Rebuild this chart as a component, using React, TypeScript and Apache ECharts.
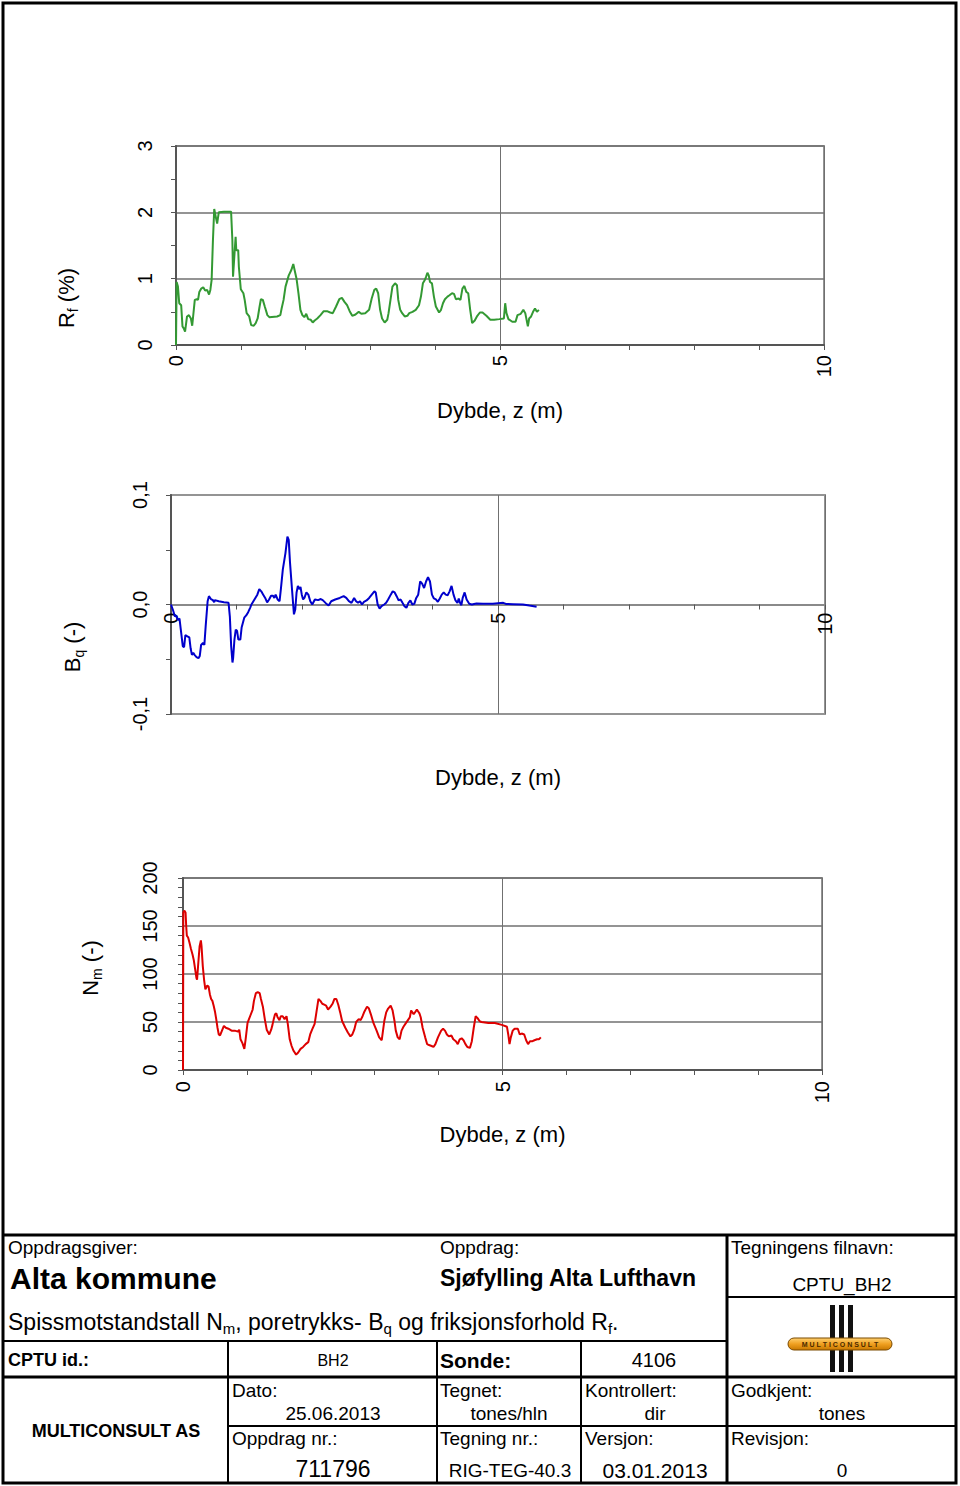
import React, { useEffect, useRef } from "react";
import * as echarts from "echarts";

// ---------- data ----------
const rfDepth = [0, 0.01, 0.03, 0.05, 0.08, 0.1, 0.12, 0.14, 0.17, 0.2, 0.23, 0.25, 0.29, 0.32, 0.34, 0.36, 0.39, 0.42, 0.45, 0.48, 0.51, 0.53, 0.55, 0.57, 0.59, 0.61, 0.635, 0.66, 0.74, 0.85, 0.87, 0.88, 0.9, 0.92, 0.93, 0.96, 0.97, 1.0, 1.04, 1.06, 1.09, 1.13, 1.16, 1.2, 1.23, 1.26, 1.29, 1.31, 1.34, 1.37, 1.41, 1.44, 1.56, 1.61, 1.63, 1.66, 1.69, 1.74, 1.78, 1.81, 1.83, 1.86, 1.89, 1.92, 1.95, 1.98, 2.01, 2.04, 2.08, 2.11, 2.14, 2.18, 2.23, 2.28, 2.33, 2.38, 2.42, 2.47, 2.52, 2.56, 2.6, 2.64, 2.68, 2.72, 2.77, 2.82, 2.86, 2.92, 2.98, 3.02, 3.06, 3.09, 3.12, 3.15, 3.18, 3.22, 3.26, 3.28, 3.31, 3.34, 3.38, 3.41, 3.43, 3.46, 3.49, 3.53, 3.57, 3.6, 3.65, 3.7, 3.75, 3.78, 3.81, 3.84, 3.86, 3.88, 3.9, 3.92, 3.95, 3.98, 4.01, 4.06, 4.09, 4.12, 4.15, 4.19, 4.22, 4.26, 4.29, 4.32, 4.36, 4.39, 4.42, 4.45, 4.48, 4.51, 4.54, 4.57, 4.61, 4.65, 4.69, 4.73, 4.79, 4.85, 4.91, 4.99, 5.06, 5.08, 5.1, 5.13, 5.19, 5.24, 5.27, 5.32, 5.36, 5.39, 5.43, 5.45, 5.48, 5.51, 5.54, 5.57, 5.6];
const rfValue = [0, 0.95, 0.88, 0.63, 0.6, 0.28, 0.25, 0.2, 0.43, 0.45, 0.4, 0.29, 0.68, 0.69, 0.68, 0.8, 0.85, 0.87, 0.82, 0.83, 0.76, 0.83, 0.98, 1.58, 2.05, 1.95, 1.83, 2.0, 2.01, 2.01, 1.58, 1.03, 1.33, 1.63, 1.43, 1.43, 1.18, 0.84, 0.78, 0.68, 0.48, 0.43, 0.3, 0.29, 0.33, 0.4, 0.58, 0.69, 0.68, 0.58, 0.45, 0.42, 0.43, 0.45, 0.55, 0.68, 0.88, 1.05, 1.13, 1.22, 1.13, 1.0, 0.78, 0.53, 0.45, 0.42, 0.47, 0.39, 0.38, 0.34, 0.37, 0.4, 0.45, 0.51, 0.51, 0.49, 0.48, 0.58, 0.69, 0.71, 0.65, 0.6, 0.51, 0.44, 0.46, 0.5, 0.47, 0.48, 0.53, 0.7, 0.83, 0.85, 0.78, 0.53, 0.4, 0.34, 0.38, 0.48, 0.68, 0.88, 0.93, 0.9, 0.68, 0.53, 0.48, 0.43, 0.44, 0.48, 0.5, 0.53, 0.6, 0.73, 0.93, 0.98, 1.03, 1.09, 1.05, 0.95, 0.93, 0.73, 0.58, 0.49, 0.53, 0.63, 0.69, 0.73, 0.75, 0.78, 0.77, 0.69, 0.7, 0.68, 0.85, 0.89, 0.8, 0.78, 0.53, 0.33, 0.37, 0.44, 0.49, 0.49, 0.44, 0.38, 0.38, 0.39, 0.4, 0.63, 0.48, 0.39, 0.35, 0.35, 0.45, 0.47, 0.53, 0.48, 0.28, 0.4, 0.43, 0.5, 0.55, 0.5, 0.53];

const bqDepth = [0, 0.03, 0.06, 0.08, 0.1, 0.13, 0.15, 0.18, 0.2, 0.22, 0.25, 0.28, 0.3, 0.32, 0.34, 0.36, 0.39, 0.42, 0.44, 0.46, 0.49, 0.51, 0.53, 0.56, 0.58, 0.61, 0.64, 0.66, 0.67, 0.73, 0.81, 0.88, 0.9, 0.92, 0.94, 0.95, 0.97, 0.99, 1.01, 1.03, 1.06, 1.08, 1.12, 1.15, 1.18, 1.21, 1.23, 1.26, 1.29, 1.32, 1.35, 1.38, 1.41, 1.44, 1.47, 1.5, 1.53, 1.56, 1.58, 1.6, 1.63, 1.66, 1.68, 1.71, 1.75, 1.78, 1.8, 1.82, 1.85, 1.87, 1.88, 1.9, 1.92, 1.94, 1.96, 1.98, 2.0, 2.02, 2.04, 2.07, 2.1, 2.13, 2.16, 2.2, 2.25, 2.29, 2.32, 2.37, 2.41, 2.45, 2.51, 2.58, 2.64, 2.68, 2.72, 2.76, 2.8, 2.83, 2.86, 2.89, 2.92, 2.95, 2.99, 3.03, 3.07, 3.11, 3.13, 3.16, 3.19, 3.22, 3.26, 3.29, 3.32, 3.36, 3.39, 3.42, 3.45, 3.48, 3.51, 3.54, 3.57, 3.6, 3.63, 3.66, 3.69, 3.72, 3.75, 3.78, 3.81, 3.84, 3.87, 3.9, 3.93, 3.96, 3.99, 4.02, 4.05, 4.08, 4.11, 4.14, 4.17, 4.2, 4.23, 4.26, 4.29, 4.32, 4.35, 4.38, 4.4, 4.42, 4.44, 4.46, 4.49, 4.52, 4.56, 4.6, 4.67, 4.77, 4.92, 5.08, 5.12, 5.23, 5.38, 5.48, 5.59];
const bqValue = [0, -0.005, -0.011, -0.01, -0.014, -0.013, -0.023, -0.038, -0.039, -0.028, -0.029, -0.03, -0.04, -0.046, -0.044, -0.046, -0.048, -0.049, -0.047, -0.037, -0.035, -0.037, -0.02, 0.003, 0.0076, 0.005, 0.004, 0.002, 0.004, 0.003, 0.002, 0.0015, -0.011, -0.038, -0.053, -0.049, -0.032, -0.023, -0.024, -0.032, -0.032, -0.021, -0.012, -0.01, -0.007, -0.003, 0, 0.003, 0.006, 0.009, 0.014, 0.012, 0.009, 0.006, 0.002, 0.0046, 0.008, 0.008, 0.006, 0.009, 0.0046, 0.003, 0.014, 0.032, 0.047, 0.062, 0.059, 0.038, 0.014, -0.0015, -0.009, -0.0046, 0.011, 0.017, 0.014, 0.016, 0.009, 0.0046, 0.006, 0.011, 0.009, 0.003, 0, 0.0046, 0.004, 0.005, 0.004, 0.001, -0.001, 0.003, 0.0046, 0.006, 0.0076, 0.006, 0.003, 0.0015, 0.006, 0.003, 0.0015, 0.003, 0, 0.0024, 0.0037, 0.006, 0.009, 0.012, 0.011, 0, -0.0037, -0.0015, 0, 0.0015, 0.0046, 0.009, 0.012, 0.011, 0.0076, 0.0037, 0.0046, 0.0015, -0.0015, -0.003, 0.0015, 0.0037, 0, 0.0006, 0.006, 0.009, 0.021, 0.019, 0.015, 0.021, 0.025, 0.021, 0.009, 0.0055, 0.0046, 0.0024, 0.0055, 0.009, 0.011, 0.009, 0.0085, 0.012, 0.017, 0.009, 0.0037, 0.0015, 0.0055, 0.0015, -0.0006, 0.006, 0.011, 0.0046, 0.0006, 0, 0.001, 0.0006, 0.0006, 0.0015, 0.0005, 0.0003, 0, -0.001, -0.002];

const nmDepth = [0, 0.005, 0.02, 0.04, 0.05, 0.06, 0.08, 0.1, 0.125, 0.15, 0.17, 0.19, 0.21, 0.22, 0.24, 0.26, 0.28, 0.29, 0.31, 0.33, 0.35, 0.38, 0.4, 0.42, 0.44, 0.46, 0.48, 0.5, 0.52, 0.54, 0.56, 0.58, 0.61, 0.64, 0.67, 0.71, 0.76, 0.81, 0.86, 0.88, 0.9, 0.93, 0.96, 0.98, 1.01, 1.05, 1.09, 1.11, 1.14, 1.17, 1.2, 1.22, 1.25, 1.28, 1.31, 1.35, 1.38, 1.4, 1.42, 1.44, 1.46, 1.48, 1.51, 1.53, 1.56, 1.59, 1.62, 1.64, 1.67, 1.7, 1.73, 1.77, 1.8, 1.84, 1.88, 1.92, 1.96, 1.99, 2.02, 2.06, 2.09, 2.12, 2.15, 2.18, 2.21, 2.24, 2.27, 2.31, 2.34, 2.37, 2.4, 2.43, 2.46, 2.49, 2.54, 2.58, 2.62, 2.65, 2.68, 2.71, 2.75, 2.78, 2.81, 2.84, 2.88, 2.91, 2.94, 2.98, 3.03, 3.07, 3.11, 3.13, 3.15, 3.18, 3.21, 3.25, 3.28, 3.31, 3.33, 3.36, 3.39, 3.42, 3.45, 3.48, 3.52, 3.55, 3.57, 3.59, 3.61, 3.64, 3.66, 3.68, 3.7, 3.72, 3.75, 3.79, 3.82, 3.85, 3.89, 3.92, 3.95, 3.99, 4.04, 4.07, 4.1, 4.13, 4.16, 4.2, 4.23, 4.27, 4.3, 4.33, 4.36, 4.39, 4.42, 4.45, 4.49, 4.52, 4.55, 4.58, 4.61, 4.64, 4.67, 4.78, 4.88, 4.99, 5.07, 5.09, 5.11, 5.13, 5.16, 5.19, 5.24, 5.27, 5.3, 5.34, 5.37, 5.4, 5.43, 5.47, 5.5, 5.54, 5.57, 5.6];
const nmValue = [0, 164, 166, 164, 150, 140, 138, 133, 126, 120, 114, 105, 96, 94, 112, 129, 135, 129, 108, 94, 84, 88, 87, 79, 74, 72, 67, 61, 53, 44, 37, 36, 41, 46, 44, 43, 41, 41, 40, 42, 32, 28, 22, 32, 49, 56, 63, 72, 80, 81, 80, 74, 66, 53, 42, 37, 42, 47, 53, 58, 59, 55, 52, 56, 56, 53, 56, 48, 32, 25, 20, 16, 18, 22, 24, 27, 29, 37, 42, 48, 61, 74, 72, 69, 68, 67, 63, 66, 69, 74, 74, 68, 60, 51, 44, 39, 35, 37, 42, 50, 53, 52, 56, 61, 66, 64, 58, 49, 41, 34, 31, 41, 51, 60, 64, 67, 62, 51, 41, 34, 32, 41, 45, 48, 52, 55, 62, 60, 58, 61, 63, 61, 59, 55, 44, 34, 27, 26, 25, 24, 27, 34, 41, 43, 41, 37, 35, 36, 32, 30, 27, 32, 33, 31, 27, 24, 23, 30, 44, 56, 54, 51, 50, 49, 49, 47, 45, 37, 27, 34, 41, 43, 43, 37, 38, 37, 31, 27, 30, 30, 31, 32, 32, 34];

const depthRange = [0, 10];
const rfRange = [0, 3];
const bqRange = [-0.1, 0.1];
const nmRange = [0, 200];

const xAxisTitle = "Dybde, z (m)";

// ---------- styling ----------
const FONT = '"Liberation Sans", Arial, Helvetica, sans-serif';
const AXIS_DARK = "#555";
const GRID_LINE = "#707070";
const FRAME = "#949494";

const zip = (a: number[], b: number[]) => a.map((d, i) => [d, b[i]]);

function xAxis(gridIndex: number, nameGap: number, labelMargin: number, offset: number, lineColor: string) {
  return {
    type: "value",
    gridIndex,
    min: depthRange[0],
    max: depthRange[1],
    interval: 5,
    offset,
    name: xAxisTitle,
    nameLocation: "middle",
    nameGap,
    nameTextStyle: { fontFamily: FONT, fontSize: 22, color: "#000" },
    axisLine: { show: true, onZero: false, lineStyle: { color: lineColor, width: 2 } },
    axisTick: { show: true, length: 5, lineStyle: { color: AXIS_DARK, width: 1 } },
    minorTick: { show: true, splitNumber: 5, length: 5, lineStyle: { color: AXIS_DARK, width: 1 } },
    axisLabel: { rotate: 90, margin: labelMargin, fontFamily: FONT, fontSize: 20, color: "#000" },
    splitLine: { show: true, lineStyle: { color: GRID_LINE, width: 1 } },
  };
}

function yAxis(gridIndex: number, range: number[], interval: number, minorSplit: number, margin: number, fmt: (v: number) => string, split: boolean) {
  return {
    type: "value",
    gridIndex,
    min: range[0],
    max: range[1],
    interval,
    axisLine: { show: true, onZero: false, lineStyle: { color: AXIS_DARK, width: 2 } },
    axisTick: { show: true, length: 5, lineStyle: { color: AXIS_DARK, width: 1 } },
    minorTick: { show: true, splitNumber: minorSplit, length: 5, lineStyle: { color: AXIS_DARK, width: 1 } },
    axisLabel: { rotate: 90, margin, fontFamily: FONT, fontSize: 20, color: "#000", formatter: fmt },
    splitLine: { show: split, lineStyle: { color: GRID_LINE, width: 1.5 } },
  };
}

function txt(text: string, x: number, y: number, size: number, opts: any = {}) {
  return {
    type: "text",
    x,
    y,
    rotation: opts.rotation || 0,
    z: 100,
    style: {
      text,
      fill: "#000",
      fontFamily: FONT,
      fontSize: size,
      fontWeight: opts.bold ? "bold" : "normal",
      align: opts.align || "left",
      verticalAlign: "middle",
      lineHeight: opts.lineHeight || undefined,
      rich: opts.rich || undefined,
    },
  };
}

function hline(y: number, x1: number, x2: number, w: number) {
  return { type: "line", z: 100, shape: { x1, y1: y, x2, y2: y }, style: { stroke: "#000", lineWidth: w } };
}
function vline(x: number, y1: number, y2: number, w: number) {
  return { type: "line", z: 100, shape: { x1: x, y1, x2: x, y2 }, style: { stroke: "#000", lineWidth: w } };
}

const subRich = (sub: number) => ({
  s: { fontFamily: FONT, fontSize: sub, lineHeight: sub, verticalAlign: "bottom", fill: "#000" },
});

// Bq grid geometry (zero line lies at the middle of the plot)
const BQ_TOP = 495;
const BQ_H = 219;

function buildOption() {
  const graphic: any[] = [
    // y axis names
    txt("R{s|f} (%)", 66, 298, 22, { rotation: Math.PI / 2, align: "center", lineHeight: 28, rich: subRich(14) }),
    txt("B{s|q} (-)", 72, 647, 22, { rotation: Math.PI / 2, align: "center", lineHeight: 28, rich: subRich(14) }),
    txt("N{s|m} (-)", 90, 968, 22, { rotation: Math.PI / 2, align: "center", lineHeight: 28, rich: subRich(14) }),

    // page frame and title block
    { type: "rect", z: 100, shape: { x: 3, y: 3, width: 953, height: 1480 }, style: { fill: "none", stroke: "#000", lineWidth: 3 } },
    hline(1235, 3, 956, 3),
    vline(727, 1235, 1483, 3),
    hline(1297, 727, 956, 2),
    hline(1341, 3, 727, 2),
    vline(228, 1341, 1483, 2),
    vline(437, 1341, 1483, 2),
    vline(581, 1341, 1483, 2),
    hline(1377, 3, 956, 3),
    hline(1426, 228, 956, 2),

    txt("Oppdragsgiver:", 8, 1247, 19),
    txt("Alta kommune", 10, 1278, 30, { bold: true }),
    txt("Oppdrag:", 440, 1247, 19),
    txt("Sjøfylling Alta Lufthavn", 440, 1278, 23, { bold: true }),
    txt("Tegningens filnavn:", 731, 1247, 19),
    txt("CPTU_BH2", 842, 1284, 19, { align: "center" }),
    txt("Spissmotstandstall N{s|m}, poretrykks- B{s|q} og friksjonsforhold R{s|f}.", 8, 1322, 23, { lineHeight: 28, rich: subRich(15) }),
    txt("CPTU id.:", 8, 1360, 18, { bold: true }),
    txt("BH2", 333, 1360, 16, { align: "center" }),
    txt("Sonde:", 440, 1360, 21, { bold: true }),
    txt("4106", 654, 1360, 20, { align: "center" }),

    txt("MULTICONSULT AS", 116, 1431, 18, { bold: true, align: "center" }),
    txt("Dato:", 232, 1390, 19),
    txt("25.06.2013", 333, 1413, 19, { align: "center" }),
    txt("Tegnet:", 440, 1390, 19),
    txt("tones/hln", 509, 1413, 19, { align: "center" }),
    txt("Kontrollert:", 585, 1390, 19),
    txt("dir", 655, 1413, 19, { align: "center" }),
    txt("Godkjent:", 731, 1390, 19),
    txt("tones", 842, 1413, 19, { align: "center" }),
    txt("Oppdrag nr.:", 232, 1438, 19),
    txt("711796", 333, 1469, 23, { align: "center" }),
    txt("Tegning nr.:", 440, 1438, 19),
    txt("RIG-TEG-40.3", 510, 1470, 19, { align: "center" }),
    txt("Versjon:", 585, 1438, 19),
    txt("03.01.2013", 655, 1470, 21, { align: "center" }),
    txt("Revisjon:", 731, 1438, 19),
    txt("0", 842, 1470, 19, { align: "center" }),

    // logo
    { type: "rect", z: 100, shape: { x: 830, y: 1305, width: 5, height: 67 }, style: { fill: "#111" } },
    { type: "rect", z: 100, shape: { x: 839, y: 1305, width: 5, height: 67 }, style: { fill: "#111" } },
    { type: "rect", z: 100, shape: { x: 848, y: 1305, width: 5, height: 67 }, style: { fill: "#111" } },
    {
      type: "rect",
      z: 101,
      shape: { x: 788, y: 1338, width: 104, height: 12, r: 6 },
      style: {
        fill: new echarts.graphic.LinearGradient(0, 0, 0, 1, [
          { offset: 0, color: "#ffd070" },
          { offset: 0.5, color: "#f0a020" },
          { offset: 1, color: "#c87800" },
        ]),
        stroke: "#7a4a00",
        lineWidth: 1,
      },
    },
    {
      type: "text",
      z: 102,
      x: 840,
      y: 1344,
      style: { text: "M U L T I C O N S U L T", fill: "#4a2a00", fontFamily: FONT, fontSize: 7, fontWeight: "bold", align: "center", verticalAlign: "middle" },
    },
  ];

  return {
    animation: false,
    backgroundColor: "#fff",
    grid: [
      { left: 176, top: 146, width: 648, height: 199, show: true, borderColor: FRAME, borderWidth: 2, containLabel: false },
      { left: 171, top: BQ_TOP, width: 654, height: BQ_H, show: true, borderColor: FRAME, borderWidth: 2, containLabel: false },
      { left: 183, top: 878, width: 639, height: 192, show: true, borderColor: FRAME, borderWidth: 2, containLabel: false },
    ],
    xAxis: [
      xAxis(0, 54, 10, 0, AXIS_DARK),
      // Bq depth axis sits on the zero line, half the plot height above the bottom edge
      xAxis(1, 162, 8, -BQ_H / 2, "#8a8a8a"),
      xAxis(2, 53, 11, 0, AXIS_DARK),
    ],
    yAxis: [
      yAxis(0, rfRange, 1, 2, 21, (v: number) => String(v), true),
      yAxis(1, bqRange, 0.1, 2, 21, (v: number) => v.toFixed(1).replace(".", ","), false),
      yAxis(2, nmRange, 50, 5, 23, (v: number) => String(v), true),
    ],
    series: [
      { type: "line", xAxisIndex: 0, yAxisIndex: 0, showSymbol: false, symbol: "none", data: zip(rfDepth, rfValue), lineStyle: { color: "#339933", width: 2 }, z: 5 },
      { type: "line", xAxisIndex: 1, yAxisIndex: 1, showSymbol: false, symbol: "none", data: zip(bqDepth, bqValue), lineStyle: { color: "#0000cc", width: 2 }, z: 5 },
      { type: "line", xAxisIndex: 2, yAxisIndex: 2, showSymbol: false, symbol: "none", data: zip(nmDepth, nmValue), lineStyle: { color: "#dd0000", width: 2 }, z: 5 },
    ],
    graphic,
  };
}

export default function App() {
  const ref = useRef<HTMLDivElement>(null);
  useEffect(() => {
    if (!ref.current) return;
    const chart = echarts.init(ref.current, null, { renderer: "svg" });
    chart.setOption(buildOption() as any);
    return () => chart.dispose();
  }, []);
  return (
    <div
      ref={ref}
      style={{ position: "absolute", left: 0, top: 0, width: 960, height: 1486, background: "#fff" }}
    />
  );
}
